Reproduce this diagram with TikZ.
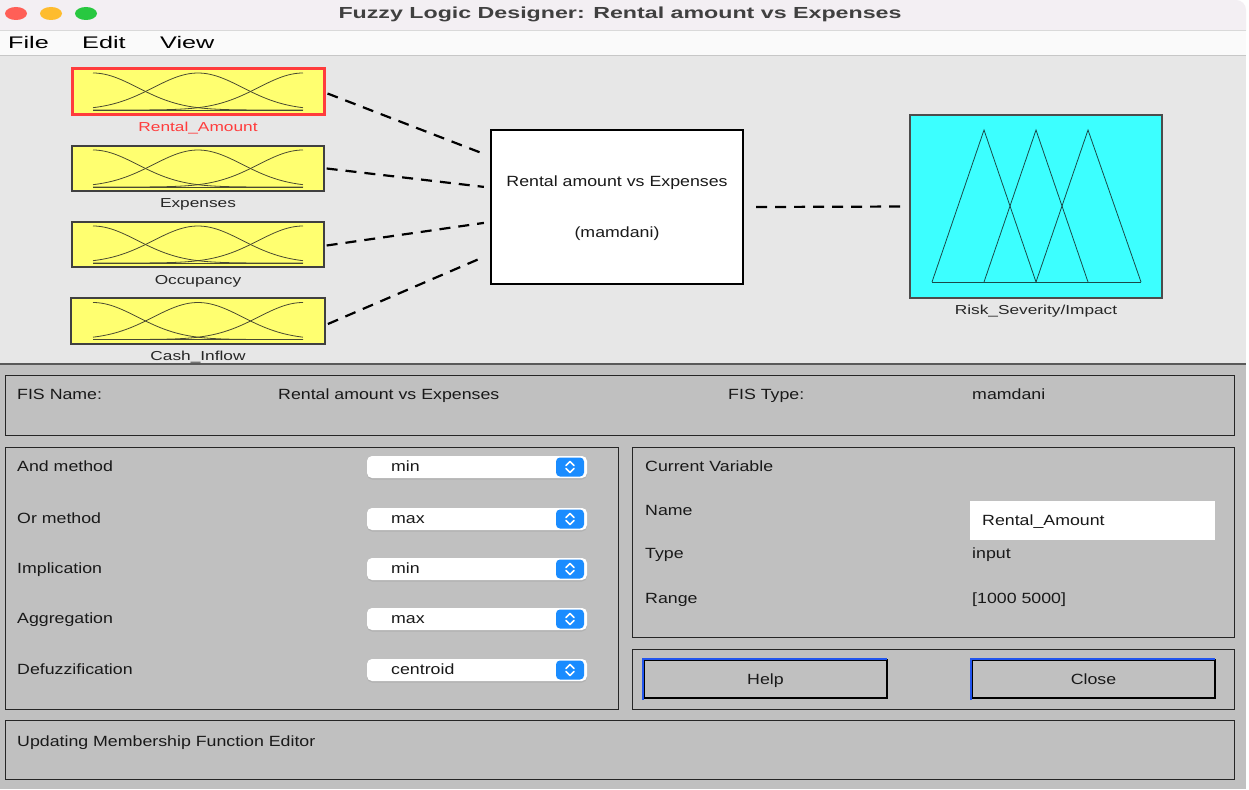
\documentclass[tikz,border=0pt]{standalone}
\usepackage{fontspec}
\setmainfont{Liberation Sans}
\newfontfamily\fTitle[FakeStretch=1.45]{Liberation Sans}
\newfontfamily\fMenu[FakeStretch=1.5]{Liberation Sans}
\newfontfamily\fLab[FakeStretch=1.33]{Liberation Sans}
\newfontfamily\fUI[FakeStretch=1.2]{Liberation Sans}
\usetikzlibrary{calc}
\definecolor{titlebg}{HTML}{F3EFF3}
\definecolor{menubg}{HTML}{FAFAFA}
\definecolor{topbg}{HTML}{E7E7E7}
\definecolor{botbg}{HTML}{C0C0C0}
\definecolor{mfyellow}{HTML}{FFFF70}
\definecolor{selred}{HTML}{FF3C3C}
\definecolor{outcyan}{HTML}{3CFFFF}
\definecolor{ddblue}{HTML}{1A8CFF}
\definecolor{btnblue}{HTML}{2255EE}
\definecolor{mfline}{HTML}{4A4A30}
\definecolor{triline}{HTML}{1A4A4A}
\definecolor{tlred}{HTML}{FF5F57}
\definecolor{tlyellow}{HTML}{FEBC2E}
\definecolor{tlgreen}{HTML}{28C840}
\begin{document}
\begin{tikzpicture}[x=1pt,y=-1pt,
  mfbox/.style={draw=black!75, line width=1.3pt, fill=mfyellow, minimum width=252pt, minimum height=45pt, inner sep=0pt},
  selbox/.style={mfbox, draw=selred, line width=3pt, minimum height=46pt},
  mfcurve/.style={draw=mfline, line width=0.8pt},
  lab/.style={font=\fLab\fontsize{13}{15}\selectfont, text=black!85, inner sep=0pt, anchor=base},
  ui/.style={font=\fUI\fontsize{14.8}{17}\selectfont, text=black!90, inner sep=0pt, anchor=base west},
  uic/.style={ui, anchor=base},
  conn/.style={draw=black, dash pattern=on 11pt off 8pt, line width=2.2pt},
  panel/.style={draw=black!85, line width=1.4pt, fill=botbg, anchor=north west, inner sep=0pt},
  dd/.style={fill=white, rounded corners=5pt, minimum width=220pt, minimum height=22pt, inner sep=0pt},
  ddshadow/.style={fill=black!30, rounded corners=5pt},
  ddbtn/.style={fill=ddblue, rounded corners=4pt, minimum width=28pt, minimum height=19pt, inner sep=0pt},
  chev/.style={draw=white, line width=1.5pt, line cap=round, line join=round},
  button/.style={draw=black, line width=2pt, fill=botbg, minimum width=243pt, minimum height=38pt, inner sep=0pt},
  bluehl/.style={draw=btnblue, line width=1.3pt},
  tri/.style={draw=triline, line width=0.8pt, line join=miter}
]
\useasboundingbox (0,0) rectangle (1249,789);
\fill[white] (0,0) rectangle (1249,789);
% title bar
\fill[titlebg] (0,31) -- (0,0) [rounded corners=10pt]-- (1246,0) [sharp corners]-- (1246,31) -- cycle;
\fill[tlred] (16,13.5) ellipse [x radius=11pt, y radius=6.5pt];
\fill[tlyellow] (51,13.5) ellipse [x radius=11pt, y radius=6.5pt];
\fill[tlgreen] (86,13.5) ellipse [x radius=11pt, y radius=6.5pt];
\node[font=\fTitle\bfseries\fontsize{16}{18}\selectfont, text=black!75, inner sep=0pt, anchor=base] (title) at (620,19) {Fuzzy Logic Designer: Rental amount vs Expenses};
% menu bar
\fill[menubg] (0,31) rectangle (1246,55);
\draw[black!15, line width=1pt] (0,31) -- (1246,31);
\draw[black!22, line width=1.2pt] (0,55.5) -- (1246,55.5);
\node[font=\fMenu\fontsize{16.8}{18}\selectfont, inner sep=0pt, anchor=base west] (mfile) at (8,49) {File};
\node[font=\fMenu\fontsize{16.8}{18}\selectfont, inner sep=0pt, anchor=base west] (medit) at (82,49) {Edit};
\node[font=\fMenu\fontsize{16.8}{18}\selectfont, inner sep=0pt, anchor=base west] (mview) at (160,49) {View};
% top area
\fill[topbg] (0,56.5) rectangle (1246,364);
% input boxes
\node[selbox] (ra) at (198,91.5) {};
\node[mfbox] (ex) at (198,168.5) {};
\node[mfbox] (oc) at (198,244.5) {};
\node[mfbox, line width=1.8pt, minimum width=254pt, minimum height=46pt] (ci) at (198,321) {};
\foreach \n in {ra,ex,oc,ci}{
  \begin{scope}[shift={(\n.center)}]
    \draw[mfcurve] plot[domain=-105:105, samples=60, smooth] (\x, {18.5-37*exp(-0.5*((\x+105)/44.6)^2)});
    \draw[mfcurve] plot[domain=-105:105, samples=60, smooth] (\x, {18.5-37*exp(-0.5*((\x)/44.6)^2)});
    \draw[mfcurve] plot[domain=-105:105, samples=60, smooth] (\x, {18.5-37*exp(-0.5*((\x-105)/44.6)^2)});
    \draw[mfcurve] (-105,18.5) -- (105,18.5);
  \end{scope}
}
\node[lab, text=selred] (lra) at (198,131.5) {Rental\_Amount};
\node[lab] (lex) at (198,207.5) {Expenses};
\node[lab] (loc) at (198,284.5) {Occupancy};
\node[lab] (lci) at (198,360.5) {Cash\_Inflow};
% central FIS box
\node[draw=black, line width=2.2pt, fill=white, minimum width=252pt, minimum height=154pt, inner sep=0pt] (fis) at (617,207) {};
\node[uic] (fisname) at (617,186.5) {Rental amount vs Expenses};
\node[uic] (fistype) at (617,237) {(mamdani)};
% output box
\node[draw=black!70, line width=1.8pt, fill=outcyan, minimum width=252pt, minimum height=183pt, inner sep=0pt] (out) at (1036,206.5) {};
\begin{scope}[shift={(out.center)}]
  \draw[tri] (-104,75.5) -- (-52,-76.5) -- (0,75.5);
  \draw[tri] (-52,75.5) -- (0,-76.5) -- (52,75.5);
  \draw[tri] (0,75.5) -- (52,-76.5) -- (105,75.5);
  \draw[tri] (-104,75.5) -- (105,75.5);
\end{scope}
\node[lab] (lout) at (1036,314.5) {Risk\_Severity/Impact};
% connectors
\coordinate (c1) at ($(fis.north west)+(-6,25)$);
\coordinate (c2) at ($(fis.north west)+(-6,58)$);
\coordinate (c3) at ($(fis.north west)+(-6,94)$);
\coordinate (c4) at ($(fis.north west)+(-6,128)$);
\coordinate (cout) at ($(fis.east)+(12,0)$);
\draw[conn] ([xshift=2pt,yshift=-2pt]ra.east) -- (c1);
\draw[conn] ([xshift=2pt]ex.east) -- (c2);
\draw[conn] ([xshift=2pt,yshift=-1pt]oc.east) -- (c3);
\draw[conn] ([xshift=2pt,yshift=-3pt]ci.east) -- (c4);
\draw[conn] (cout) -- ([xshift=-2pt]out.west);
% bottom area
\fill[botbg] (0,364) rectangle (1246,789);
\draw[black!65, line width=2pt] (0,364) -- (1246,364);
% FIS name panel
\node[panel, minimum width=1229pt, minimum height=60pt] (pname) at (5,375) {};
\node[ui] (tfisname) at (17,399) {FIS Name:};
\node[ui] (tfisval) at (278,399) {Rental amount vs Expenses};
\node[ui] (tfistype) at (728,399) {FIS Type:};
\node[ui] (tfistypev) at (972,399) {mamdani};
% methods panel
\node[panel, minimum width=613pt, minimum height=262pt] (pmeth) at (5,447) {};
\foreach \i/\yy/\val/\lab in {1/467/min/And method, 2/519/max/Or method, 3/569/min/Implication, 4/619/max/Aggregation, 5/670/centroid/Defuzzification}{
  \node[ui] (ml\i) at (17,\yy+4.5) {\lab};
  \fill[ddshadow] (367,\yy-9) rectangle (587,\yy+12.5);
  \node[dd] (dd\i) at (477,\yy) {};
  \node[ui] (dv\i) at (391,\yy+4.5) {\val};
  \node[ddbtn] (db\i) at (570,\yy) {};
  \draw[chev] ($(db\i)+(-4,-1.5)$) -- ($(db\i)+(0,-5.5)$) -- ($(db\i)+(4,-1.5)$);
  \draw[chev] ($(db\i)+(-4,1.5)$) -- ($(db\i)+(0,5.5)$) -- ($(db\i)+(4,1.5)$);
}
% current variable panel
\node[panel, minimum width=602pt, minimum height=190pt] (pvar) at (632,447) {};
\node[ui] (tcur) at (645,471) {Current Variable};
\node[ui] (tname) at (645,515) {Name};
\node[fill=white, minimum width=245pt, minimum height=39pt, inner sep=0pt, anchor=north west] (namefield) at (970,500.5) {};
\node[ui] (tnamev) at (982,525) {Rental\_Amount};
\node[ui] (ttype) at (645,558) {Type};
\node[ui] (ttypev) at (972,558) {input};
\node[ui] (trange) at (645,603) {Range};
\node[ui] (trangev) at (972,603) {[1000 5000]};
% buttons panel
\node[panel, minimum width=602pt, minimum height=60pt] (pbtn) at (632,649) {};
\node[button, anchor=north west] (help) at (643,659) {};
\draw[bluehl] ([yshift=-1pt]help.south west) -- (help.north west) -- ([xshift=-1pt]help.north east);
\node[uic] (thelp) at ($(help.center)+(0,5)$) {Help};
\node[button, anchor=north west] (close) at (971,659) {};
\draw[bluehl] ([yshift=-1pt]close.south west) -- (close.north west) -- ([xshift=-1pt]close.north east);
\node[uic] (tclose) at ($(close.center)+(0,5)$) {Close};
% status panel
\node[panel, minimum width=1229pt, minimum height=59pt] (pstat) at (5,720) {};
\node[ui] (tstat) at (17,746) {Updating Membership Function Editor};
\end{tikzpicture}
\end{document}
